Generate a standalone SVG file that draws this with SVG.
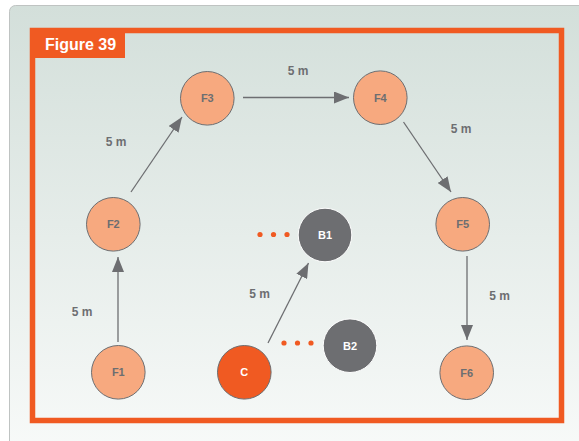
<svg xmlns="http://www.w3.org/2000/svg" width="579" height="441" viewBox="0 0 579 441">
<defs>
<linearGradient id="bg" x1="0" y1="0" x2="0" y2="1">
<stop offset="0" stop-color="#d3dfda"/>
<stop offset="1" stop-color="#f8faf9"/>
</linearGradient>
<marker id="ah" viewBox="0 0 15 12" refX="15" refY="6" markerWidth="15" markerHeight="12" markerUnits="userSpaceOnUse" orient="auto">
<path d="M0,0 L15,6 L0,12 Z" fill="#6d6e71"/>
</marker>
<style>
.f{fill:#f7a97f;stroke:#6d6e71;stroke-width:1}
.b{fill:#6d6e71;stroke:#ffffff;stroke-width:1}
.c{fill:#f05a22;stroke:#6d6e71;stroke-width:1}
.t{font-family:"Liberation Sans",Arial,sans-serif;font-weight:bold;font-size:11px;fill:#6d6e71;text-anchor:middle}
.tw{fill:#ffffff}
.d{font-family:"Liberation Sans",Arial,sans-serif;font-weight:bold;font-size:12px;fill:#6d6e71;text-anchor:middle}
.e{stroke:#6d6e71;stroke-width:1.3;fill:none;marker-end:url(#ah)}
.dot{fill:#f05a22}
</style>
</defs>
<rect x="0" y="0" width="579" height="441" fill="#ffffff"/>
<rect x="9.5" y="5.5" width="580" height="450" rx="6" fill="url(#bg)" stroke="#bfc3c2" stroke-width="1"/>
<rect x="32.5" y="30.5" width="529" height="390" fill="none" stroke="#f05a22" stroke-width="5.5"/>
<g id="title">
<rect x="30" y="28" width="95" height="30" fill="#f05a22"/>
<text x="45" y="50" font-family="Liberation Sans,Arial,sans-serif" font-weight="bold" font-size="16" fill="#ffffff">Figure 39</text>
</g>
<g id="connectors">
<line class="e" x1="118" y1="342" x2="118" y2="257"/>
<line class="e" x1="131" y1="192" x2="182" y2="117"/>
<line class="e" x1="243" y1="97.5" x2="349" y2="97.5"/>
<line class="e" x1="403.5" y1="122" x2="451" y2="192"/>
<line class="e" x1="467" y1="256" x2="467" y2="340"/>
<line class="e" x1="268" y1="343" x2="308.5" y2="263"/>
</g>
<g id="labels">
<text class="d" x="298" y="75">5 m</text>
<text class="d" x="116" y="146">5 m</text>
<text class="d" x="461" y="133">5 m</text>
<text class="d" x="82" y="316">5 m</text>
<text class="d" x="259.5" y="298">5 m</text>
<text class="d" x="499.5" y="300">5 m</text>
</g>
<g id="dots1">
<circle class="dot" cx="260" cy="234.5" r="2.6"/>
<circle class="dot" cx="273.5" cy="234.5" r="2.6"/>
<circle class="dot" cx="287" cy="234.5" r="2.6"/>
</g>
<g id="dots2">
<circle class="dot" cx="284" cy="343" r="2.6"/>
<circle class="dot" cx="297.5" cy="343" r="2.6"/>
<circle class="dot" cx="311" cy="343" r="2.6"/>
</g>
<g id="F1"><circle class="f" cx="118.3" cy="372.3" r="26.8"/><text class="t" x="118.3" y="376.3">F1</text></g>
<g id="F2"><circle class="f" cx="113.3" cy="224.3" r="26.8"/><text class="t" x="113.3" y="228.3">F2</text></g>
<g id="F3"><circle class="f" cx="207.3" cy="98.3" r="26.8"/><text class="t" x="207.3" y="102.3">F3</text></g>
<g id="F4"><circle class="f" cx="380.3" cy="97.7" r="26.8"/><text class="t" x="380.3" y="101.7">F4</text></g>
<g id="F5"><circle class="f" cx="462.7" cy="224.3" r="26.8"/><text class="t" x="462.7" y="228.3">F5</text></g>
<g id="F6"><circle class="f" cx="466.7" cy="372.7" r="26.8"/><text class="t" x="466.7" y="376.7">F6</text></g>
<g id="C"><circle class="c" cx="244.3" cy="372.3" r="26.8"/><text class="t tw" x="244.3" y="376.3">C</text></g>
<g id="B1"><circle class="b" cx="325" cy="235" r="26.8"/><text class="t tw" x="325" y="239">B1</text></g>
<g id="B2"><circle class="b" cx="350" cy="345.7" r="26.8"/><text class="t tw" x="350" y="349.7">B2</text></g>
</svg>
